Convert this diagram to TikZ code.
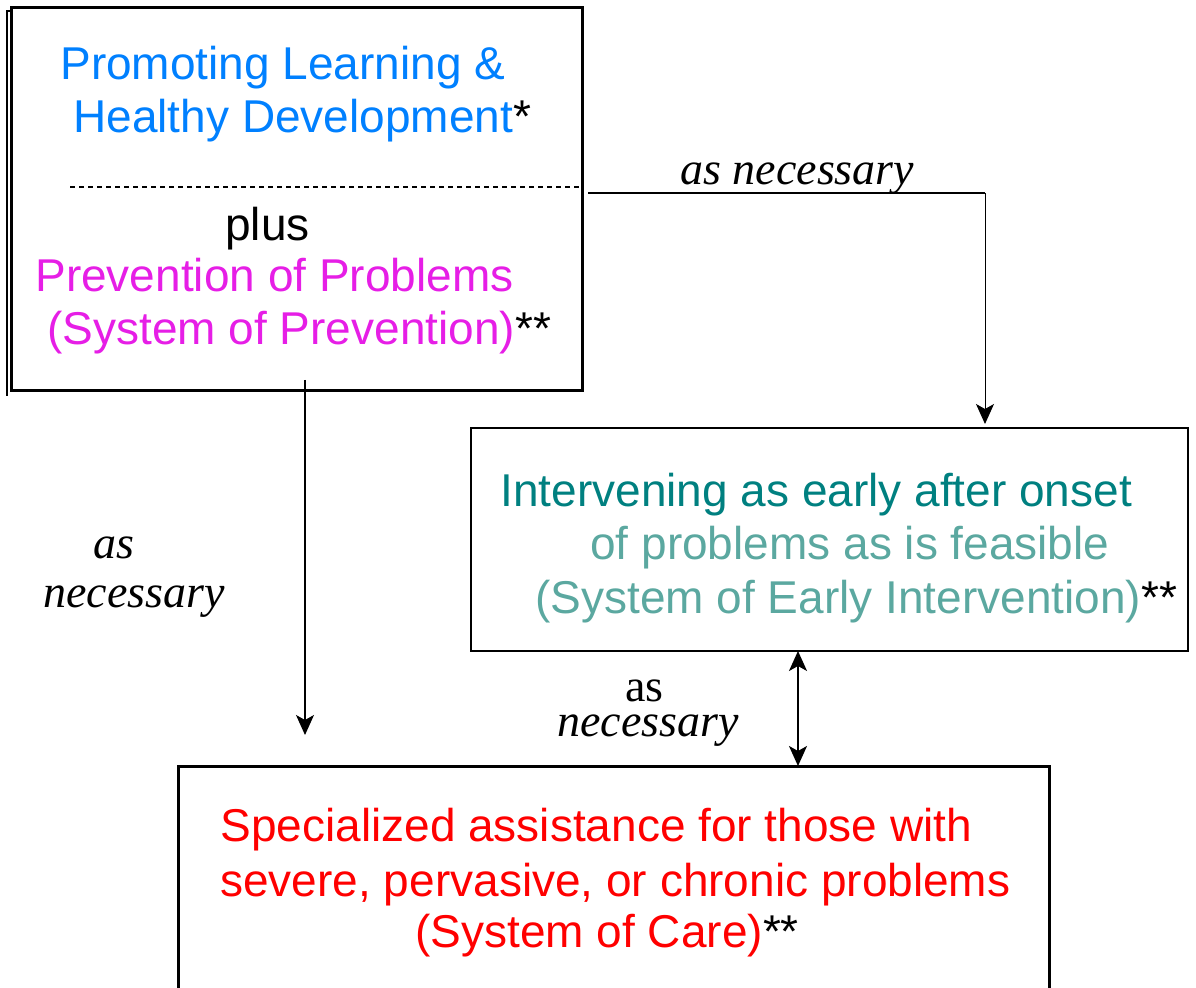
\documentclass[tikz,border=0pt]{standalone}
\usepackage{fontspec}
\setmainfont{Liberation Serif}
\setsansfont{Liberation Sans}
\usetikzlibrary{arrows.meta}
\definecolor{cblue}{RGB}{0,128,255}
\definecolor{cmag}{RGB}{230,30,230}
\definecolor{cteal}{RGB}{0,128,128}
\definecolor{clteal}{RGB}{91,168,160}
\definecolor{cred}{RGB}{255,0,0}
\tikzset{mytip/.tip={Stealth[length=10pt,width=9pt,inset=2.5pt]}}
\begin{document}
\begin{tikzpicture}[x=0.5pt,y=-0.5pt,
  sans/.style={anchor=base west,inner sep=0pt,font=\sffamily\fontsize{23}{26}\selectfont},
  lab/.style={anchor=base west,inner sep=0pt,font=\rmfamily\fontsize{23}{26}\selectfont},
  itlab/.style={lab,font=\rmfamily\itshape\fontsize{23}{26}\selectfont},
  box/.style={draw=black,line width=1.5pt,inner sep=0pt},
  arr/.style={-{mytip},line width=0.6pt}]
\useasboundingbox (0,0) rectangle (1196,988);

% boxes
\node[box,minimum width=285.5pt,minimum height=191.5pt] (prom) at (296.5,199.5) {};
\draw[line width=1pt] (11,11) -- (7,11) -- (7,396);
\node[box,line width=1.2pt,minimum width=358.5pt,minimum height=111.5pt] (early) at (829.5,539.5) {};
\coordinate (cbl) at (178,1000);
\coordinate (ctl) at (178,767);
\coordinate (ctr) at (1049,767);
\coordinate (cbr) at (1049,1000);
\draw[line width=1.5pt] (cbl) -- (ctl) -- (ctr) -- (cbr);

% dashed separator
\coordinate (d1) at (70,187);
\coordinate (d2) at (581,187);
\draw[line width=0.7pt,dash pattern=on 2.5pt off 2pt] (d1) -- (d2);

% top box text
\node[sans,text=cblue] (t1) at (60,80) {Promoting Learning \&};
\node[sans] (t2) at (73,133) {\textcolor{cblue}{Healthy Development}*};
\node[sans] (t3) at (225,241) {plus};
\node[sans,text=cmag] (t4) at (35,292) {Prevention of Problems};
\node[sans] (t5) at (47,345) {\textcolor{cmag}{(System of Prevention)}**};

% early box text
\node[sans,text=cteal] (e1) at (500,507) {Intervening as early after onset};
\node[sans,text=clteal] (e2) at (590,560) {of problems as is feasible};
\node[sans] (e3) at (535,614) {\textcolor{clteal}{(System of Early Intervention)}**};

% care box text
\node[sans,text=cred] (c1) at (220,842) {Specialized assistance for those with};
\node[sans,text=cred] (c2) at (220,897) {severe, pervasive, or chronic problems};
\node[sans] (c3) at (415,948) {\textcolor{cred}{(System of Care)}**};

% connectors
\coordinate (p1) at (588,193);
\coordinate (p2) at (985,193);
\coordinate (p3) at (985,424);
\draw[line width=0.8pt] (p1) -- (p2);
\draw[arr,line width=0.5pt] (p2) -- (p3);
\node[itlab] (l1) at (680,185) {as necessary};

\coordinate (q1) at (305,380);
\coordinate (q2) at (305,735);
\draw[arr] (q1) -- (q2);
\node[itlab] (l2a) at (93,559) {as};
\node[itlab] (l2b) at (43,608) {necessary};

\coordinate (r1) at (798,651);
\coordinate (r2) at (798,766);
\draw[{mytip}-{mytip},line width=0.9pt] (r1) -- (r2);
\node[lab] (l3a) at (625,702) {as};
\node[itlab] (l3b) at (557,737) {necessary};
\end{tikzpicture}
\end{document}
